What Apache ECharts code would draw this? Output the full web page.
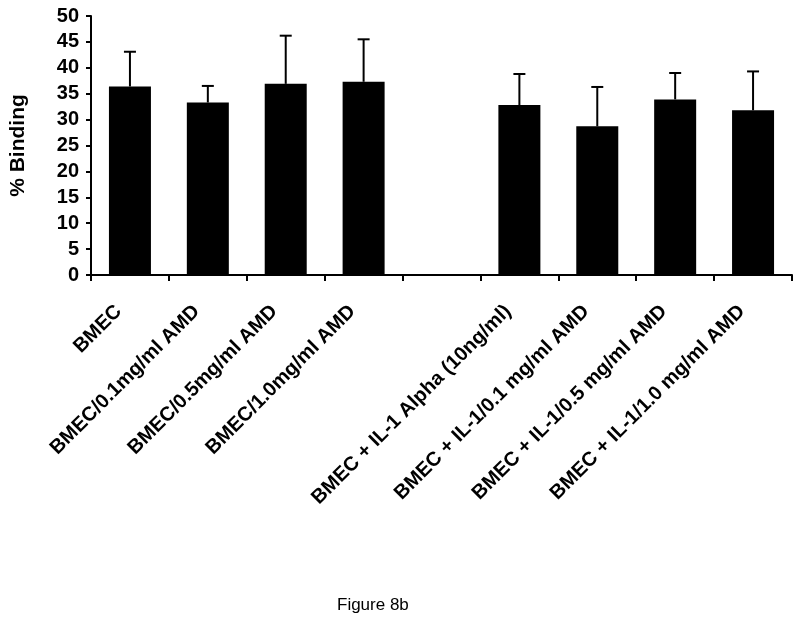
<!DOCTYPE html>
<html>
<head>
<meta charset="utf-8">
<script src="https://cdn.jsdelivr.net/npm/echarts@6/dist/echarts.min.js"></script>
<style>
  html, body { margin: 0; padding: 0; background: #fff; }
  #chart { width: 800px; height: 619px; }
</style>
</head>
<body>
<div id="chart"></div>
<script>
  // groups on the x axis, one empty slot splits the two sets
  var categories = [
    'BMEC',
    'BMEC/0.1mg/ml AMD',
    'BMEC/0.5mg/ml AMD',
    'BMEC/1.0mg/ml AMD',
    '',
    'BMEC + IL-1 Alpha (10ng/ml)',
    'BMEC + IL-1/0.1 mg/ml AMD',
    'BMEC + IL-1/0.5 mg/ml AMD',
    'BMEC + IL-1/1.0 mg/ml AMD'
  ]
  var means = [36.4, 33.3, 36.9, 37.3, null, 32.8, 28.7, 33.9, 31.8]
  var errors = [6.7, 3.2, 9.3, 8.2, null, 6.0, 7.6, 5.1, 7.5]
  var yTicks = [0, 5, 10, 15, 20, 25, 30, 35, 40, 45, 50]

  var font = 'Liberation Sans, Arial, sans-serif'
  var chart = echarts.init(document.getElementById('chart'))

  var errData = []
  for (var i = 0; i < means.length; i++) {
    if (means[i] == null) continue
    errData.push([i, means[i], means[i] + errors[i]])
  }

  var option = {
    animation: false,
    backgroundColor: '#fff',
    title: {
      text: 'Figure 8b',
      left: 332,
      top: 592,
      textStyle: { fontFamily: font, fontSize: 17, fontWeight: 'normal', color: '#000' }
    },
    grid: { left: 89, right: 8, top: 16, bottom: 344, containLabel: false },
    xAxis: {
      type: 'category',
      data: categories,
      axisLine: { lineStyle: { color: '#000', width: 2 } },
      axisTick: { show: true, length: 6, interval: 0, lineStyle: { color: '#000', width: 2 } },
      axisLabel: {
        interval: 0,
        rotate: 45,
        margin: 22,
        // right padding slides the labels down-left along their slope
        padding: [0, 16, 0, 0],
        color: '#000',
        fontFamily: font,
        fontWeight: 'bold',
        fontSize: 20
      }
    },
    yAxis: {
      type: 'value',
      min: yTicks[0],
      max: yTicks[yTicks.length - 1],
      interval: 5,
      name: '% Binding',
      nameLocation: 'middle',
      nameGap: 62,
      nameTextStyle: { fontFamily: font, fontWeight: 'bold', fontSize: 21, color: '#000' },
      splitLine: { show: false },
      axisLine: { show: true, lineStyle: { color: '#000', width: 2 } },
      axisTick: { show: true, length: 5, lineStyle: { color: '#000', width: 2 } },
      axisLabel: {
        margin: 12,
        color: '#000',
        fontFamily: font,
        fontWeight: 'bold',
        fontSize: 20
      }
    },
    series: [
      {
        type: 'bar',
        data: means,
        barWidth: 42,
        itemStyle: { color: '#000' },
        z: 2
      },
      {
        type: 'custom',
        data: errData,
        z: 3,
        renderItem: function (params, api) {
          var x = api.value(0)
          var bottom = api.coord([x, api.value(1)])
          var top = api.coord([x, api.value(2)])
          var half = 6
          var style = { stroke: '#000', lineWidth: 2 }
          return {
            type: 'group',
            children: [
              { type: 'line', shape: { x1: top[0], y1: bottom[1], x2: top[0], y2: top[1] }, style: style },
              { type: 'line', shape: { x1: top[0] - half, y1: top[1], x2: top[0] + half, y2: top[1] }, style: style }
            ]
          }
        }
      }
    ]
  }
  chart.setOption(option)
</script>
</body>
</html>
